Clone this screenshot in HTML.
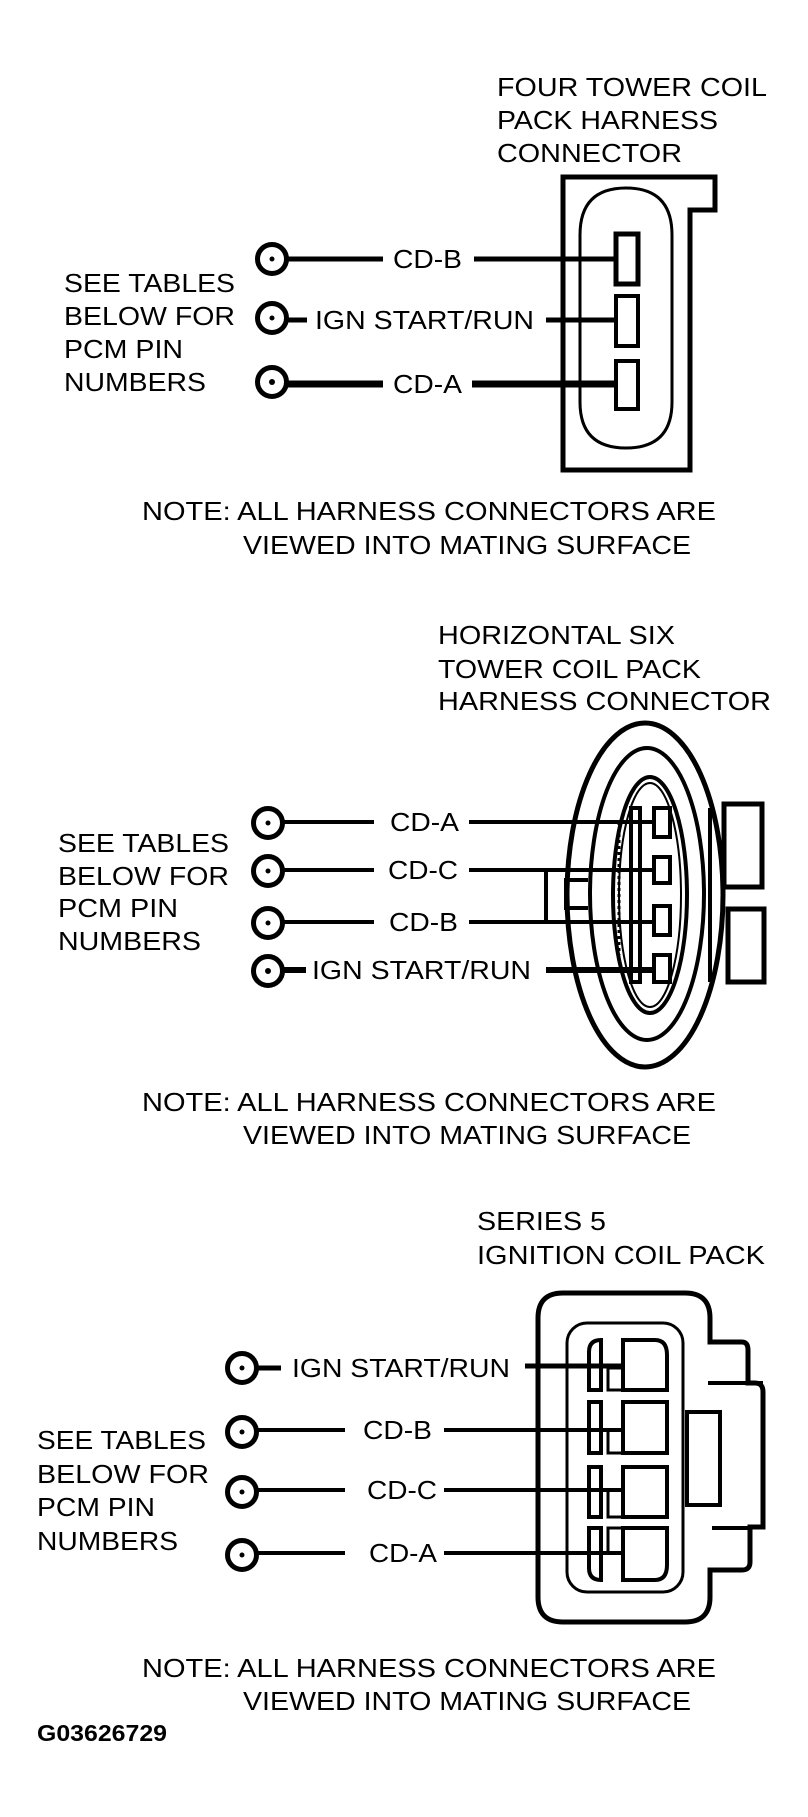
<!DOCTYPE html>
<html><head><meta charset="utf-8"><style>
html,body{margin:0;padding:0;background:#fff}
svg{display:block}
text{font-family:"Liberation Sans",Arial,sans-serif;font-size:26px;fill:#000}
</style></head><body>
<svg width="808" height="1817" viewBox="0 0 808 1817" xmlns="http://www.w3.org/2000/svg">
<g fill="none" stroke="#000">
<!-- Section 1 -->
<path d="M563,177 H715 V210 H690 V470 H563 Z" stroke-width="5"/>
<path d="M580,235 Q580,188 626,188 Q672,188 672,235 V402 Q672,448 626,448 Q580,448 580,402 Z" stroke-width="3"/>
<rect x="616" y="234" width="22" height="50" stroke-width="5"/>
<rect x="616" y="296" width="22" height="50" stroke-width="4"/>
<rect x="616" y="361" width="22" height="48" stroke-width="4"/>
<circle cx="272" cy="259" r="14.5" stroke-width="5"/>
<circle cx="272" cy="318" r="14.5" stroke-width="5"/>
<circle cx="272" cy="382" r="14.5" stroke-width="5"/>
<path d="M288,259 H383 M474,259 H616" stroke-width="5"/>
<path d="M288,320 H307 M546,320 H616" stroke-width="5"/>
<path d="M288,384 H383 M472,384 H616" stroke-width="7"/>
<!-- Section 2 -->
<ellipse cx="645" cy="895" rx="78" ry="172" stroke-width="5"/>
<ellipse cx="647" cy="894" rx="57" ry="146" stroke-width="4"/>
<ellipse cx="650" cy="895" rx="37" ry="118" stroke-width="4"/>
<ellipse cx="650" cy="895" rx="31" ry="112" stroke-width="2"/>
<rect x="724" y="804" width="38" height="83" fill="#fff" stroke-width="5"/>
<rect x="728" y="909" width="36" height="73" fill="#fff" stroke-width="5"/>
<path d="M710,808 V982" stroke-width="4"/>
<rect x="631" y="808" width="9" height="174" stroke-width="4"/>
<path d="M619,822 V955" stroke-width="3" stroke-dasharray="3,3"/>
<rect x="654" y="808" width="16" height="29" stroke-width="4"/>
<rect x="654" y="857" width="16" height="26" stroke-width="4"/>
<rect x="654" y="906" width="16" height="29" stroke-width="4"/>
<rect x="654" y="955" width="16" height="27" stroke-width="4"/>
<path d="M546,870 V922" stroke-width="4"/>
<path d="M588,880 H566 V908 H588" stroke-width="4"/>
<circle cx="268" cy="823" r="14.5" stroke-width="5"/>
<circle cx="268" cy="871" r="14.5" stroke-width="5"/>
<circle cx="268" cy="923" r="14.5" stroke-width="5"/>
<circle cx="268" cy="971" r="14.5" stroke-width="5"/>
<path d="M284,822 H374 M469,822 H654" stroke-width="4"/>
<path d="M284,870 H374 M469,870 H654" stroke-width="4"/>
<path d="M284,922 H374 M469,922 H654" stroke-width="4"/>
<path d="M284,970 H306 M546,970 H654" stroke-width="6"/>
<!-- Section 3 -->
<path d="M563,1293 H685 Q710,1293 710,1318 V1342 H742 Q748,1342 748,1350 V1383 H755 Q763,1383 763,1392 V1527 H750 V1562 Q750,1570 742,1570 H710 V1597 Q710,1622 685,1622 H563 Q538,1622 538,1597 V1318 Q538,1293 563,1293 Z" stroke-width="5"/>
<path d="M708,1383 H763 M712,1528 H750" stroke-width="4"/>
<rect x="687" y="1412" width="33" height="93" stroke-width="4"/>
<rect x="567" y="1323" width="116" height="269" rx="20" stroke-width="3"/>
<path d="M623,1340 H655 Q667,1340 667,1355 V1390 H623 Z" stroke-width="4"/>
<rect x="623" y="1402" width="44" height="51" stroke-width="4"/>
<rect x="623" y="1467" width="44" height="50" stroke-width="4"/>
<path d="M623,1528 H667 V1565 Q667,1580 655,1580 H623 Z" stroke-width="4"/>
<path d="M589,1390 V1352 Q589,1340 601,1340 V1390 Z" stroke-width="4"/>
<rect x="589" y="1402" width="12" height="51" stroke-width="4"/>
<rect x="589" y="1467" width="12" height="50" stroke-width="4"/>
<path d="M589,1528 H601 V1580 Q589,1580 589,1568 Z" stroke-width="4"/>
<rect x="608" y="1368" width="15" height="22" stroke-width="3"/>
<rect x="608" y="1430" width="15" height="23" stroke-width="3"/>
<rect x="608" y="1490" width="15" height="27" stroke-width="3"/>
<rect x="608" y="1528" width="15" height="25" stroke-width="3"/>
<circle cx="242" cy="1368" r="14.5" stroke-width="5"/>
<circle cx="242" cy="1432" r="14.5" stroke-width="5"/>
<circle cx="242" cy="1492" r="14.5" stroke-width="5"/>
<circle cx="242" cy="1555" r="14.5" stroke-width="5"/>
<path d="M258,1368 H281 M525,1366 H623" stroke-width="5"/>
<path d="M258,1430 H345 M444,1430 H623" stroke-width="4"/>
<path d="M258,1490 H345 M444,1490 H623" stroke-width="4"/>
<path d="M258,1553 H345 M444,1553 H623" stroke-width="4"/>
</g>
<g fill="#000">
<circle cx="272" cy="259" r="2.5"/><circle cx="272" cy="318" r="2.5"/><circle cx="272" cy="382" r="3"/>
<circle cx="268" cy="823" r="2.5"/><circle cx="268" cy="871" r="2.5"/><circle cx="268" cy="923" r="2.5"/><circle cx="268" cy="971" r="3"/>
<circle cx="242" cy="1368" r="2.5"/><circle cx="242" cy="1432" r="2.5"/><circle cx="242" cy="1492" r="2.5"/><circle cx="242" cy="1555" r="2.5"/>
</g>
<g lengthAdjust="spacingAndGlyphs">
<text x="497" y="96" textLength="270" lengthAdjust="spacingAndGlyphs">FOUR TOWER COIL</text>
<text x="497" y="129" textLength="221" lengthAdjust="spacingAndGlyphs">PACK HARNESS</text>
<text x="497" y="162" textLength="185" lengthAdjust="spacingAndGlyphs">CONNECTOR</text>
<text x="64" y="292" textLength="171" lengthAdjust="spacingAndGlyphs">SEE TABLES</text>
<text x="64" y="325" textLength="171" lengthAdjust="spacingAndGlyphs">BELOW FOR</text>
<text x="64" y="358" textLength="119" lengthAdjust="spacingAndGlyphs">PCM PIN</text>
<text x="64" y="391" textLength="142" lengthAdjust="spacingAndGlyphs">NUMBERS</text>
<text x="393" y="268" textLength="69" lengthAdjust="spacingAndGlyphs">CD-B</text>
<text x="315" y="329" textLength="219" lengthAdjust="spacingAndGlyphs">IGN START/RUN</text>
<text x="393" y="393" textLength="69" lengthAdjust="spacingAndGlyphs">CD-A</text>
<text x="142" y="520" textLength="574" lengthAdjust="spacingAndGlyphs">NOTE: ALL HARNESS CONNECTORS ARE</text>
<text x="243" y="554" textLength="448" lengthAdjust="spacingAndGlyphs">VIEWED INTO MATING SURFACE</text>

<text x="438" y="644" textLength="237" lengthAdjust="spacingAndGlyphs">HORIZONTAL SIX</text>
<text x="438" y="678" textLength="263" lengthAdjust="spacingAndGlyphs">TOWER COIL PACK</text>
<text x="438" y="710" textLength="333" lengthAdjust="spacingAndGlyphs">HARNESS CONNECTOR</text>
<text x="58" y="852" textLength="171" lengthAdjust="spacingAndGlyphs">SEE TABLES</text>
<text x="58" y="885" textLength="171" lengthAdjust="spacingAndGlyphs">BELOW FOR</text>
<text x="58" y="917" textLength="120" lengthAdjust="spacingAndGlyphs">PCM PIN</text>
<text x="58" y="950" textLength="143" lengthAdjust="spacingAndGlyphs">NUMBERS</text>
<text x="390" y="831" textLength="69" lengthAdjust="spacingAndGlyphs">CD-A</text>
<text x="388" y="879" textLength="70" lengthAdjust="spacingAndGlyphs">CD-C</text>
<text x="389" y="931" textLength="69" lengthAdjust="spacingAndGlyphs">CD-B</text>
<text x="312" y="979" textLength="219" lengthAdjust="spacingAndGlyphs">IGN START/RUN</text>
<text x="142" y="1111" textLength="574" lengthAdjust="spacingAndGlyphs">NOTE: ALL HARNESS CONNECTORS ARE</text>
<text x="243" y="1144" textLength="448" lengthAdjust="spacingAndGlyphs">VIEWED INTO MATING SURFACE</text>

<text x="477" y="1230" textLength="129" lengthAdjust="spacingAndGlyphs">SERIES 5</text>
<text x="477" y="1264" textLength="288" lengthAdjust="spacingAndGlyphs">IGNITION COIL PACK</text>
<text x="37" y="1449" textLength="169" lengthAdjust="spacingAndGlyphs">SEE TABLES</text>
<text x="37" y="1483" textLength="172" lengthAdjust="spacingAndGlyphs">BELOW FOR</text>
<text x="37" y="1516" textLength="118" lengthAdjust="spacingAndGlyphs">PCM PIN</text>
<text x="37" y="1550" textLength="141" lengthAdjust="spacingAndGlyphs">NUMBERS</text>
<text x="292" y="1377" textLength="218" lengthAdjust="spacingAndGlyphs">IGN START/RUN</text>
<text x="363" y="1439" textLength="69" lengthAdjust="spacingAndGlyphs">CD-B</text>
<text x="367" y="1499" textLength="70" lengthAdjust="spacingAndGlyphs">CD-C</text>
<text x="369" y="1562" textLength="68" lengthAdjust="spacingAndGlyphs">CD-A</text>
<text x="142" y="1677" textLength="574" lengthAdjust="spacingAndGlyphs">NOTE: ALL HARNESS CONNECTORS ARE</text>
<text x="243" y="1710" textLength="448" lengthAdjust="spacingAndGlyphs">VIEWED INTO MATING SURFACE</text>
<text x="37" y="1741" textLength="130" lengthAdjust="spacingAndGlyphs" style="font-weight:bold;font-size:23px">G03626729</text>
</g>
</svg>
</body></html>
